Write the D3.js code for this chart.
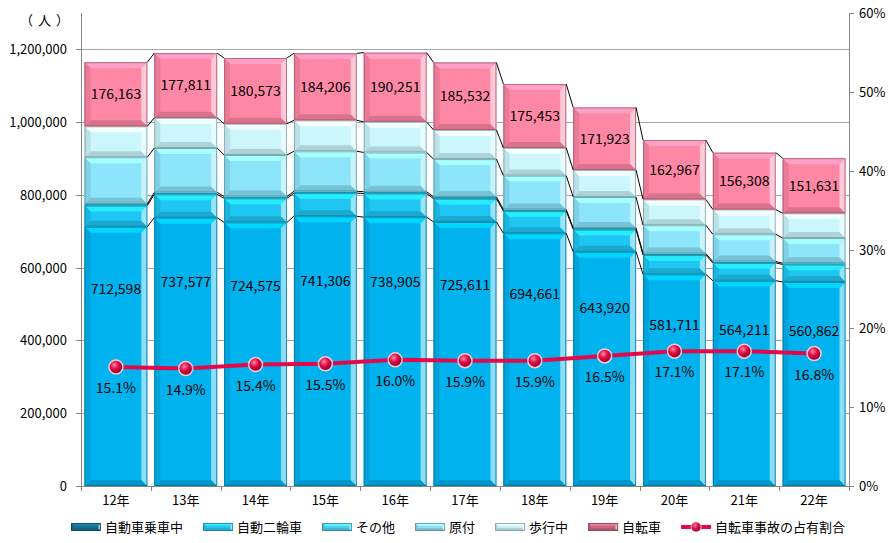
<!DOCTYPE html>
<html>
<head>
<meta charset="utf-8">
<script src="https://cdn.jsdelivr.net/npm/d3@7"></script>
<style>
  body { margin: 0; background: #fff; }
  svg { font-family: "Noto Sans CJK JP", "Noto Sans", sans-serif; }
</style>
</head>
<body>
<svg width="890" height="543"></svg>
<script>
// data
var years = ['12年', '13年', '14年', '15年', '16年', '17年', '18年', '19年', '20年', '21年', '22年']
var seriesNames = ['自動車乗車中', '自動二輪車', 'その他', '原付', '歩行中', '自転車']
var car = [712598, 737577, 724575, 741306, 738905, 725611, 694661, 643920, 581711, 564211, 560862]
var moto = [58000, 64000, 66000, 63700, 65000, 64000, 61000, 61000, 53000, 49000, 48000]
var other = [5000, 5300, 5100, 5000, 4900, 4900, 4500, 4400, 4000, 3700, 3600]
var moped = [128000, 122000, 114000, 110000, 108000, 104000, 93000, 85000, 78000, 75000, 69000]
var walk = [85000, 83000, 86000, 85000, 84000, 80000, 76000, 74000, 71000, 68000, 68000]
var bike = [176163, 177811, 180573, 184206, 190251, 185532, 175453, 171923, 162967, 156308, 151631]
var share = [0.151, 0.149, 0.154, 0.155, 0.160, 0.159, 0.159, 0.165, 0.171, 0.171, 0.168]
var leftTicks = [0, 200000, 400000, 600000, 800000, 1000000, 1200000]
var rightTicks = [0, 0.1, 0.2, 0.3, 0.4, 0.5, 0.6]

var colors = ['#00b3ef', '#1fc6f3', '#2fcbf4', '#8ce5fa', '#cbf6fc', '#ff87a6']
var legendColors = ['#17708f', '#2bc4ee', '#4fcff0', '#8fdcf0', '#c6eef4', '#c8677f']
var lineColor = '#e4074b'

var svg = d3.select('svg')
var pLeft = 81, pRight = 849, pTop = 13, pBottom = 486

var x = d3.scaleBand().domain(years).range([pLeft, pRight]).paddingInner(0.1).paddingOuter(0.05)
var y = d3.scaleLinear().domain([0, 1300000]).range([pBottom, pTop])
var y2 = d3.scaleLinear().domain([0, 0.6]).range([pBottom, pTop])

// gridlines
svg.append('g').selectAll('line')
  .data(leftTicks.filter((d) => d > 0))
  .enter().append('line')
    .attr('x1', pLeft).attr('x2', pRight)
    .attr('y1', (d) => Math.round(y(d)) + 0.5).attr('y2', (d) => Math.round(y(d)) + 0.5)
    .attr('stroke', '#a6a6a6')

// stack
var rows = years.map((yr, i) => ({
  year: yr,
  vals: [car[i], moto[i], other[i], moped[i], walk[i], bike[i]]
}))
var stacked = rows.map((r) => {
  var acc = 0
  return r.vals.map((v, k) => { var s = { y0: acc, y1: acc + v, k: k, year: r.year, v: v }; acc += v; return s })
})

function bevel (g, x0, y0, w, h, color) {
  var c = d3.color(color)
  var b = Math.min(6, h / 3, w / 3)
  g.append('rect').attr('x', x0).attr('y', y0).attr('width', w).attr('height', h).attr('fill', color)
  var pts = {
    top: [[x0, y0], [x0 + w, y0], [x0 + w - b, y0 + b], [x0 + b, y0 + b]],
    bot: [[x0, y0 + h], [x0 + w, y0 + h], [x0 + w - b, y0 + h - b], [x0 + b, y0 + h - b]],
    lft: [[x0, y0], [x0 + b, y0 + b], [x0 + b, y0 + h - b], [x0, y0 + h]],
    rgt: [[x0 + w, y0], [x0 + w - b, y0 + b], [x0 + w - b, y0 + h - b], [x0 + w, y0 + h]]
  }
  var fills = {
    top: c.brighter(0.5), bot: c.darker(0.45), lft: c.darker(0.25), rgt: d3.interpolateRgb(color, '#ffffff')(0.55)
  }
  Object.keys(pts).forEach((k) => {
    g.append('polygon').attr('points', pts[k].map((p) => p.join(',')).join(' ')).attr('fill', fills[k])
  })
  g.append('rect').attr('x', x0 + 0.5).attr('y', y0 + 0.5).attr('width', Math.max(0, w - 1)).attr('height', Math.max(0, h - 1))
    .attr('fill', 'none').attr('stroke', c.darker(1.3)).attr('stroke-opacity', 0.75)
}

var bars = svg.append('g')
stacked.forEach((col) => {
  col.forEach((s) => {
    var gg = bars.append('g')
    bevel(gg, x(s.year), y(s.y1), x.bandwidth(), y(s.y0) - y(s.y1), colors[s.k])
  })
})

// series lines between bars
var sl = svg.append('g')
for (var i = 0; i < years.length - 1; i++) {
  stacked[i].forEach((s, k) => {
    sl.append('line')
      .attr('x1', x(years[i]) + x.bandwidth()).attr('y1', y(s.y1))
      .attr('x2', x(years[i + 1])).attr('y2', y(stacked[i + 1][k].y1))
      .attr('stroke', '#000').attr('stroke-width', 1)
  })
}

// value labels
var lab = svg.append('g').attr('font-size', 14).attr('fill', '#000').attr('text-anchor', 'middle')
stacked.forEach((col) => {
  var b = col[5], c = col[0]
  lab.append('text').attr('x', x(b.year) + x.bandwidth() / 2).attr('y', (y(b.y0) + y(b.y1)) / 2 + 5).text(d3.format(',')(b.v))
  lab.append('text').attr('x', x(c.year) + x.bandwidth() / 2)
    .attr('y', y(c.y1) + 0.24 * (y(c.y0) - y(c.y1)) + 5).text(d3.format(',')(c.v))
})

// axes
var ax = svg.append('g').attr('font-size', 13).attr('fill', '#000')
ax.append('line').attr('x1', pLeft + 0.5).attr('x2', pLeft + 0.5).attr('y1', pTop).attr('y2', pBottom).attr('stroke', '#868686')
ax.append('line').attr('x1', pRight + 0.5).attr('x2', pRight + 0.5).attr('y1', pTop).attr('y2', pBottom).attr('stroke', '#868686')
ax.append('line').attr('x1', pLeft).attr('x2', pRight).attr('y1', pBottom + 0.5).attr('y2', pBottom + 0.5).attr('stroke', '#868686')
leftTicks.forEach((t) => {
  var ty = Math.round(y(t)) + 0.5
  ax.append('line').attr('x1', pLeft - 5).attr('x2', pLeft).attr('y1', ty).attr('y2', ty).attr('stroke', '#868686')
  ax.append('text').attr('x', 67).attr('y', y(t) + 5).attr('text-anchor', 'end').text(d3.format(',')(t))
})
rightTicks.forEach((t) => {
  var ty = Math.round(y2(t)) + 0.5
  ax.append('line').attr('x1', pRight).attr('x2', pRight + 5).attr('y1', ty).attr('y2', ty).attr('stroke', '#868686')
  ax.append('text').attr('x', 859).attr('y', y2(t) + 5).text(d3.format('.0%')(t))
})
var step = (pRight - pLeft) / years.length
d3.range(years.length + 1).forEach((i) => {
  var xx = Math.round(pLeft + i * step) + 0.5
  ax.append('line').attr('x1', xx).attr('x2', xx).attr('y1', pBottom).attr('y2', pBottom + 5).attr('stroke', '#868686')
})
years.forEach((yr) => {
  ax.append('text').attr('x', x(yr) + x.bandwidth() / 2).attr('y', 505).attr('text-anchor', 'middle').text(yr)
})
ax.append('text').attr('x', 20).attr('y', 25).attr('letter-spacing', 5).text('（人）')

// share line
var defs = svg.append('defs')
var rg = defs.append('radialGradient').attr('id', 'ball').attr('cx', '40%').attr('cy', '35%').attr('r', '65%')
rg.append('stop').attr('offset', '0%').attr('stop-color', '#ff8aa8')
rg.append('stop').attr('offset', '45%').attr('stop-color', '#e0104a')
rg.append('stop').attr('offset', '100%').attr('stop-color', '#8a0025')

var cx = (d, i) => x(years[i]) + x.bandwidth() / 2
svg.append('path')
  .datum(share)
  .attr('d', d3.line().x(cx).y((d) => y2(d)))
  .attr('fill', 'none').attr('stroke', lineColor).attr('stroke-width', 4)
svg.append('g').selectAll('circle').data(share).enter().append('circle')
  .attr('cx', cx).attr('cy', (d) => y2(d)).attr('r', 7)
  .attr('fill', 'url(#ball)').attr('stroke', '#f4c8d4').attr('stroke-width', 1.5)
svg.append('g').attr('font-size', 14).attr('text-anchor', 'middle').selectAll('text').data(share).enter().append('text')
  .attr('x', cx).attr('y', (d) => y2(d) + 26).text((d) => d3.format('.1%')(d))

// legend
var lg = svg.append('g').attr('font-size', 13)
var lx = 71, ly = 527
seriesNames.forEach((n, k) => {
  bevel(lg.append('g'), lx, ly - 4, 30, 8, legendColors[k])
  var t = lg.append('text').attr('x', lx + 34).attr('y', ly + 5).text(n)
  lx += 34 + t.node().getComputedTextLength() + 20
})
lg.append('line').attr('x1', lx).attr('x2', lx + 30).attr('y1', ly).attr('y2', ly).attr('stroke', lineColor).attr('stroke-width', 4)
lg.append('circle').attr('cx', lx + 15).attr('cy', ly).attr('r', 5).attr('fill', 'url(#ball)').attr('stroke', '#f4c8d4')
lg.append('text').attr('x', lx + 34).attr('y', ly + 5).text('自転車事故の占有割合')
</script>
</body>
</html>
